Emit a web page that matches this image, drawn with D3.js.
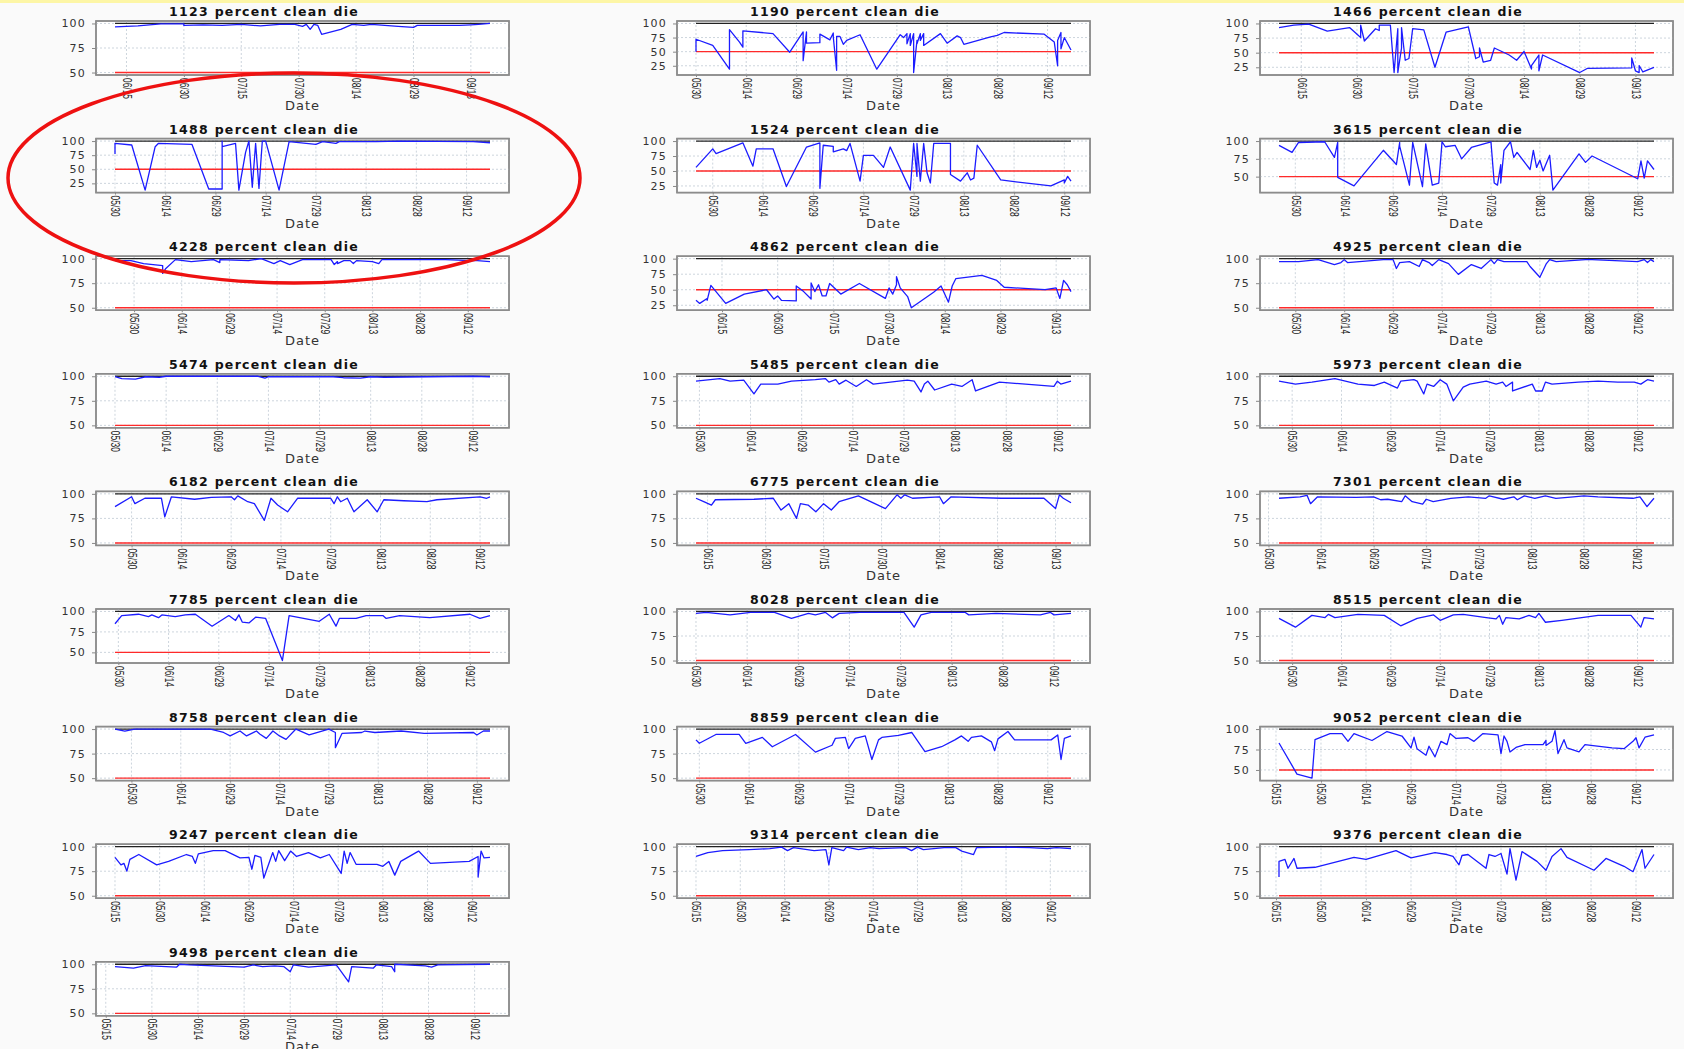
<!DOCTYPE html>
<html lang="en">
<head>
<meta charset="utf-8" />
<title>percent clean die</title>
<script src="https://cdnjs.cloudflare.com/ajax/libs/d3/7.8.5/d3.min.js"></script>
<style>
  body { margin: 0; background: #fafafa; }
  .title { font-family: "DejaVu Sans", sans-serif; font-weight: bold; font-size: 12.5px; letter-spacing: 1.3px; fill: #111; }
  .yaxis text { font-family: "DejaVu Sans", sans-serif; font-size: 11px; letter-spacing: 1.2px; fill: #333; }
  .xaxis text { font-family: "Liberation Sans", sans-serif; font-size: 12px; fill: #222; }
  .yaxis line, .xaxis line { stroke: #888; }
  .axisTitle { font-family: "DejaVu Sans", sans-serif; font-size: 13px; letter-spacing: 1px; fill: #333; }
  .grid { stroke: #cdd5dd; stroke-dasharray: 2,2; stroke-width: 1; }
  .frame { fill: #fff; stroke: #8c8c8c; stroke-width: 1.5; }
</style>
</head>
<body>
<svg id="chart" width="1684" height="1049"></svg>
<script>
// ---- data ----
const waferIds = ["1123","1190","1466","1488","1524","3615","4228","4862","4925","5474","5485","5973",
  "6182","6775","7301","7785","8028","8515","8758","8859","9052","9247","9314","9376","9498"];

const ticksA = ["05/30","06/14","06/29","07/14","07/29","08/13","08/28","09/12"];
const ticksB = ["06/15","06/30","07/15","07/30","08/14","08/29","09/13"];
const ticksC = ["05/15","05/30","06/14","06/29","07/14","07/29","08/13","08/28","09/12"];

const yTickValues = [25, 50, 75, 100];
const targetLevel = 100;
const limitLevel = 50;

const s1123 = [["06/12",96.5],["06/18",97.5],["06/24",99.5],["06/30",99.5],["06/30",98],["07/05",98.5],["07/10",98],["07/15",99],["07/20",97.5],["07/25",99],["07/29",99],["07/31",97],["08/01",99],["08/02",94],["08/03",99],["08/04",98],["08/05",89],["08/10",94],["08/13",99],["08/16",98],["08/18",99],["08/25",97],["08/29",96],["08/30",98],["09/05",98],["09/10",98],["09/13",98.5],["09/15",99],["09/18",100]];
const s1190 = [["05/30",50],["05/30",72],["06/04",61],["06/09",19],["06/09",89],["06/12",67],["06/13",58],["06/13",87],["06/22",82],["06/27",49],["07/01",85],["07/01",34],["07/02",85],["07/02",65],["07/06",66],["07/06",81],["07/09",71],["07/10",83],["07/10",76],["07/11",17],["07/11",77],["07/12",77],["07/13",63],["07/14",70],["07/18",80],["07/23",19],["07/30",80],["07/31",75],["08/01",82],["08/01",64],["08/02",82],["08/02",61],["08/03",82],["08/03",13],["08/04",70],["08/04",64],["08/05",82],["08/05",70],["08/06",82],["08/06",61],["08/11",82],["08/13",65],["08/16",78],["08/17",75],["08/18",63],["08/26",76],["08/28",79],["08/30",84],["09/11",81],["09/14",67],["09/15",25],["09/15",70],["09/16",84],["09/16",55],["09/17",75],["09/19",53]];
const s1466 = [["06/09",93],["06/13",97],["06/17",99],["06/22",87],["06/28",93],["07/01",76],["07/01",97],["07/02",70],["07/05",91],["07/06",88],["07/06",97],["07/09",97],["07/10",16],["07/11",91],["07/11",16],["07/12",58],["07/12",93],["07/13",37],["07/14",40],["07/15",91],["07/18",89],["07/21",25],["07/24",85],["07/30",94],["08/01",40],["08/02",43],["08/02",58],["08/03",34],["08/05",37],["08/06",58],["08/10",46],["08/12",37],["08/14",52],["08/16",22],["08/16",28],["08/18",46],["08/18",19],["08/19",46],["08/29",16],["08/31",23],["09/12",24],["09/12",41],["09/13",19],["09/14",16],["09/14",28],["09/15",17],["09/18",25]];
const s1488 = [["05/30",77],["05/30",96],["06/04",93],["06/08",13],["06/11",90],["06/12",96],["06/22",94],["06/27",15],["07/01",15],["07/01",100],["07/01",90],["07/05",96],["07/06",13],["07/08",80],["07/09",100],["07/10",18],["07/11",96],["07/12",16],["07/13",100],["07/14",100],["07/18",13],["07/21",99],["07/29",94],["07/31",99],["08/04",96],["08/05",99],["08/16",99],["08/23",100],["09/14",99],["09/19",97]];
const s1524 = [["05/25",56],["05/30",87],["05/31",79],["06/08",97],["06/11",58],["06/12",87],["06/17",87],["06/21",24],["06/27",90],["07/01",97],["07/01",21],["07/02",93],["07/05",91],["07/05",82],["07/08",87],["07/09",84],["07/10",96],["07/13",33],["07/14",76],["07/17",76],["07/20",56],["07/22",90],["07/28",18],["07/29",96],["07/30",41],["07/30",96],["07/31",33],["08/01",96],["08/02",47],["08/03",30],["08/04",96],["08/09",96],["08/09",44],["08/12",33],["08/14",47],["08/15",35],["08/16",38],["08/17",93],["08/24",35],["09/08",25],["09/12",35],["09/12",30],["09/13",41],["09/14",33]];
const s3615 = [["05/25",94],["05/29",84],["05/31",98],["06/08",99],["06/11",77],["06/12",98],["06/12",49],["06/17",37],["06/26",87],["06/30",67],["07/01",98],["07/01",93],["07/04",38],["07/05",98],["07/08",36],["07/09",96],["07/10",67],["07/11",38],["07/13",41],["07/14",99],["07/15",92],["07/18",94],["07/20",75],["07/23",91],["07/29",99],["07/30",41],["07/31",38],["08/01",67],["08/01",41],["08/02",87],["08/04",99],["08/05",77],["08/06",84],["08/10",60],["08/11",87],["08/12",63],["08/13",73],["08/14",58],["08/16",80],["08/17",31],["08/25",82],["08/27",70],["08/29",79],["09/12",47],["09/13",72],["09/14",48],["09/15",72],["09/17",60]];
const s4228 = [["05/24",98],["05/29",98],["06/02",95],["06/08",93],["06/08",85],["06/09",90],["06/12",99],["06/17",97],["06/24",99],["06/26",96],["06/26",99],["07/05",98],["07/09",100],["07/13",95],["07/15",98],["07/18",94],["07/22",99],["07/31",99],["08/01",94],["08/02",97],["08/02",95],["08/04",98],["08/06",98],["08/07",95],["08/08",98],["08/13",97],["08/15",95],["08/16",99],["09/05",99],["09/13",98],["09/15",98],["09/19",97]];
const s4862 = [["06/08",33],["06/09",28],["06/11",36],["06/11",33],["06/12",57],["06/16",28],["06/21",43],["06/27",50],["06/29",35],["06/30",40],["07/01",33],["07/05",32],["07/05",56],["07/07",47],["07/09",35],["07/09",61],["07/10",47],["07/11",58],["07/12",40],["07/13",40],["07/14",60],["07/17",43],["07/22",60],["07/29",36],["07/30",53],["07/31",43],["08/01",58],["08/01",71],["08/02",53],["08/04",39],["08/05",21],["08/11",46],["08/13",56],["08/15",30],["08/16",56],["08/17",68],["08/24",73],["08/28",65],["08/30",54],["09/10",50],["09/13",53],["09/14",36],["09/15",65],["09/16",58],["09/17",47]];
const s4925 = [["05/25",97],["05/31",97],["06/06",99],["06/11",94],["06/13",96],["06/14",99],["06/15",96],["06/26",99],["06/29",99],["06/30",90],["07/01",96],["07/04",97],["07/07",92],["07/08",99],["07/10",96],["07/11",93],["07/13",99],["07/16",95],["07/19",84],["07/23",94],["07/26",90],["07/29",99],["07/30",95],["07/31",99],["08/02",97],["08/09",97],["08/10",92],["08/13",81],["08/15",95],["08/16",99],["08/18",97],["08/27",99],["08/29",99],["09/12",97],["09/14",99],["09/15",96],["09/16",99],["09/17",97]];
const s5474 = [["05/30",99.5],["06/01",97.5],["06/05",97],["06/08",99.5],["06/12",99],["06/14",100],["07/11",100],["07/13",98],["07/14",99.5],["08/02",99.5],["08/05",98.5],["08/10",98],["08/13",99.5],["08/17",99],["09/12",100],["09/17",99.5]];
const s5485 = [["05/29",95],["06/05",97.5],["06/08",95],["06/12",96],["06/15",82],["06/17",92],["06/22",92],["06/26",95],["07/03",96.5],["07/06",97.5],["07/07",94],["07/09",96.5],["07/10",92],["07/12",96],["07/15",89.6],["07/18",96.5],["07/20",92],["07/25",94],["07/30",96],["08/01",95],["08/03",84],["08/04",92],["08/05",95],["08/07",86],["08/12",92],["08/15",89.6],["08/18",96.5],["08/19",85],["08/26",94],["09/11",89.6],["09/12",95],["09/13",92],["09/16",95]];
const s5973 = [["05/26",95],["05/31",92],["06/05",94],["06/12",97.5],["06/19",92],["06/24",90.6],["06/27",94],["07/01",88],["07/02",95],["07/06",96.5],["07/07",95],["07/09",82],["07/10",92],["07/12",89.6],["07/14",96.5],["07/16",92],["07/18",75],["07/21",89],["07/23",92],["07/28",95],["07/31",92],["08/02",94],["08/03",89.6],["08/05",94],["08/05",85],["08/11",92],["08/12",85],["08/14",85],["08/15",94],["08/17",92],["08/25",94],["08/31",95],["09/06",94],["09/11",94],["09/13",92],["09/15",96.5],["09/17",95]];
const s6182 = [["05/25",87],["05/30",97],["05/31",90],["06/03",95.5],["06/08",95.5],["06/09",76.6],["06/11",97],["06/18",94.5],["06/23",96.5],["06/29",97],["06/30",94],["07/01",98],["07/04",92],["07/06",90],["07/09",73],["07/11",95.5],["07/13",88.6],["07/16",81.7],["07/19",95.5],["07/29",95.5],["07/30",90],["07/31",97],["08/01",92],["08/03",95.5],["08/05",81.7],["08/09",94],["08/12",81.7],["08/14",94],["08/20",93],["08/27",92],["08/30",94],["09/12",97],["09/14",95.5],["09/15",97]];
const s6775 = [["06/12",95.5],["06/14",92],["06/16",88.6],["06/17",94],["06/27",94.5],["07/02",95.5],["07/04",83.5],["07/06",90],["07/08",75],["07/09",90],["07/11",88.6],["07/13",81.7],["07/15",90],["07/17",83.5],["07/19",92],["07/24",98],["07/31",85],["08/03",99],["08/04",95.5],["08/05",99],["08/07",95.5],["08/14",97],["08/15",90],["08/17",97],["08/30",95.5],["09/10",95.5],["09/13",85],["09/14",99],["09/15",95.5],["09/17",91]];
const s7301 = [["06/02",95.5],["06/08",97],["06/10",98.5],["06/11",90],["06/13",97],["06/24",96.5],["06/29",97],["07/01",94],["07/03",94.5],["07/07",92],["07/08",98],["07/10",92],["07/13",89.6],["07/14",94.5],["07/16",92],["07/21",95.5],["07/26",97],["07/31",95.5],["08/01",98],["08/05",94.5],["08/08",97],["08/09",94],["08/11",98],["08/14",95.5],["08/17",98],["08/20",95.5],["08/25",97],["08/28",98],["09/01",97],["09/11",95.5],["09/13",97],["09/15",87],["09/17",95.5]];
const s7785 = [["05/29",85],["05/31",95],["06/05",96.6],["06/08",93.6],["06/09",95.8],["06/11",92.4],["06/12",95.8],["06/16",93.6],["06/19",95.8],["06/22",96.6],["06/27",82],["07/02",95],["07/04",89],["07/05",95.8],["07/06",87],["07/08",86],["07/10",93],["07/13",91.5],["07/18",40],["07/20",95],["07/29",88],["08/01",96.6],["08/03",82],["08/04",91.5],["08/09",91.5],["08/12",95],["08/17",95],["08/18",91.5],["08/22",95],["08/31",92.4],["09/12",96.6],["09/15",91.5],["09/18",95]];
const s8028 = [["05/30",98],["06/02",99],["06/09",96.5],["06/15",99],["06/22",99],["06/27",93],["07/02",98],["07/04",96.5],["07/07",99],["07/09",93.5],["07/11",98],["07/17",99],["07/30",99],["08/02",84],["08/04",96.5],["08/07",99],["08/17",99],["08/18",96.5],["08/26",98],["09/08",96.5],["09/11",99],["09/12",96.5],["09/17",98]];
const s8515 = [["05/26",93],["05/31",84],["06/05",96],["06/09",93.8],["06/10",97],["06/12",93.8],["06/19",97],["06/27",96],["07/02",85.4],["07/07",93],["07/12",96.5],["07/14",91],["07/18",96.5],["07/21",97],["07/28",93.8],["07/31",92.4],["08/01",96],["08/02",87],["08/03",93.8],["08/07",92.4],["08/10",96],["08/12",93.8],["08/13",98],["08/15",89],["08/20",91],["08/31",96],["09/10",96],["09/13",84],["09/14",93.8],["09/17",92.4]];
const s8758 = [["05/25",100],["05/28",98],["05/31",100],["06/23",100],["06/27",96.5],["06/29",93],["07/02",98],["07/04",93],["07/07",98],["07/08",95],["07/10",90.5],["07/12",98],["07/14",93],["07/16",89.5],["07/19",100],["07/23",94],["07/29",100],["07/31",96.5],["07/31",81],["08/02",95.5],["08/08",96.5],["08/09",98],["08/12",96.5],["08/20",98],["08/27",95.5],["09/11",96.5],["09/12",94],["09/14",98],["09/16",98]];
const s8859 = [["05/29",89],["05/30",85.5],["06/04",94.5],["06/11",94.5],["06/13",85.5],["06/18",91.5],["06/21",82],["06/28",94.5],["07/04",76.5],["07/09",83.5],["07/10",90.5],["07/13",91.5],["07/14",80],["07/16",90.5],["07/19",93],["07/21",69],["07/23",89],["07/24",91.5],["07/29",93.5],["08/02",96.5],["08/06",77],["08/11",82],["08/15",89],["08/17",93],["08/19",87.5],["08/20",91.5],["08/23",93],["08/26",87],["08/27",78],["08/28",90],["08/31",97.5],["09/02",89],["09/13",89],["09/15",94],["09/16",69],["09/17",90.5],["09/19",93]];
const s9052 = [["05/16",83],["05/22",45],["05/27",40],["05/28",87],["06/02",94.5],["06/06",94.5],["06/08",85],["06/10",94.5],["06/16",86],["06/21",97],["06/26",91.5],["06/29",77],["06/30",90],["07/01",76],["07/04",68],["07/05",79],["07/07",66],["07/09",85],["07/11",81],["07/12",94.5],["07/14",88.5],["07/18",89.4],["07/20",85],["07/23",94.5],["07/28",93],["07/29",70],["07/30",91.5],["07/31",85],["08/01",72],["08/03",77.5],["08/06",81],["08/12",81],["08/13",86],["08/13",80],["08/15",85],["08/16",98],["08/17",70],["08/19",87],["08/20",77],["08/24",72],["08/26",81],["08/28",80],["09/04",77],["09/08",76],["09/11",85],["09/12",89.4],["09/13",77],["09/15",90],["09/18",93]];
const s9247 = [["05/15",89],["05/17",81.5],["05/18",83],["05/19",75],["05/20",87],["05/23",92],["05/29",81.5],["06/02",85],["06/08",92],["06/10",90],["06/11",83],["06/12",92.7],["06/17",96],["06/21",96],["06/26",88.5],["06/29",89],["06/30",77],["07/01",91],["07/03",89],["07/04",68],["07/07",94],["07/08",85],["07/09",96],["07/11",85.7],["07/13",95.5],["07/15",90],["07/19",94],["07/23",88.5],["07/26",92],["07/30",72.7],["07/31",95.5],["08/01",83],["08/02",94],["08/04",82],["08/11",82],["08/13",80],["08/15",85],["08/17",71],["08/19",85],["08/25",95.5],["08/29",83],["09/11",85],["09/14",90],["09/14",69],["09/15",95.5],["09/16",88.5],["09/18",89]];
const s9314 = [["05/15",90],["05/19",94],["05/24",96],["06/02",97],["06/09",98],["06/13",99.5],["06/15",96],["06/17",99],["06/24",96],["06/28",97],["06/29",81.5],["06/30",99],["07/04",96],["07/05",99.5],["07/09",97],["07/13",99],["07/16",98],["07/25",99],["07/27",96],["07/29",99.5],["07/31",97],["08/07",99],["08/11",99],["08/13",95.5],["08/17",92],["08/18",99],["08/29",99.5],["09/05",99],["09/11",98],["09/14",99],["09/19",98]];
const s9376 = [["05/16",69],["05/16",85],["05/18",87],["05/19",78],["05/21",88],["05/22",78],["05/28",79],["06/10",89],["06/14",87],["06/24",96],["06/29",88.5],["07/07",94],["07/11",92],["07/13",90],["07/15",81.5],["07/16",91],["07/18",92],["07/24",78],["07/25",92],["07/27",90],["07/29",93],["07/31",72],["08/01",98],["08/03",66],["08/05",95],["08/10",85],["08/13",76],["08/15",90],["08/18",98],["08/20",89],["08/29",76],["09/02",88],["09/08",80],["09/11",74.5],["09/14",97],["09/15",78],["09/18",92]];
const s9498 = [["05/18",97.5],["05/24",96],["05/28",98.6],["06/07",97],["06/08",100],["06/11",99.3],["06/29",97],["07/02",99.3],["07/05",97.5],["07/09",98.3],["07/12",97.5],["07/14",92.4],["07/15",99.3],["07/20",97],["07/29",99.3],["08/02",82],["08/03",97.5],["08/10",96],["08/11",99.3],["08/16",97.5],["08/17",92.4],["08/17",100],["08/27",98.3],["08/29",97],["08/31",99.3],["09/17",100]];

const seriesList = [s1123, s1190, s1466, s1488, s1524, s3615, s4228, s4862, s4925, s5474, s5485, s5973,
  s6182, s6775, s7301, s7785, s8028, s8515, s8758, s8859, s9052, s9247, s9314, s9376, s9498];
const tickSets = [ticksB, ticksA, ticksB, ticksA, ticksA, ticksA, ticksA, ticksB, ticksA, ticksA, ticksA, ticksA,
  ticksA, ticksB, ticksA, ticksA, ticksA, ticksA, ticksA, ticksA, ticksC, ticksC, ticksC, ticksC, ticksC];

// ---- layout ----
const colLeft = [96, 677, 1260];
const plotW = 413, plotH = 54;
const rowTop0 = 21, rowStep = 117.6;
const padFrac = 0.046;

const parseDate = d3.timeParse("%Y/%m/%d");
const toDate = s => parseDate("2013/" + s);
const fmt = d3.timeFormat("%m/%d");

const svg = d3.select('#chart');

svg.append('rect').attr('x', 0).attr('y', 0).attr('width', 1684).attr('height', 1049).attr('fill', '#fafafa');
svg.append('rect').attr('x', 0).attr('y', 0).attr('width', 1684).attr('height', 3).attr('fill', '#fdf6a6');

waferIds.forEach((id, i) => {
  const data = seriesList[i].map(([d, v]) => ({ date: toDate(d), value: v }));
  const left = colLeft[i % 3];
  const top = rowTop0 + Math.floor(i / 3) * rowStep;
  const g = svg.append('g').attr('transform', `translate(${left},${top})`);

  const [d0, d1] = d3.extent(data, d => d.date);
  const pad = plotW * padFrac;
  const x = d3.scaleTime().domain([d0, d1]).range([pad, plotW - pad]);

  const lo = Math.min(d3.min(data, d => d.value), limitLevel);
  const hi = targetLevel;
  const m = (hi - lo) * 0.05;
  const y = d3.scaleLinear().domain([lo - m, hi + m]).range([plotH, 0]);

  const xt = tickSets[i].map(toDate).filter(t => x(t) >= -1 && x(t) <= plotW);
  const yt = yTickValues.filter(v => v >= lo - m && v <= hi + m);

  g.append('rect').attr('class', 'frame').attr('width', plotW).attr('height', plotH);

  // grid
  g.selectAll('.vgrid').data(xt).join('line')
    .attr('class', 'grid')
    .attr('x1', d => x(d)).attr('x2', d => x(d))
    .attr('y1', 0).attr('y2', plotH);
  g.selectAll('.hgrid').data(yt).join('line')
    .attr('class', 'grid')
    .attr('x1', 0).attr('x2', plotW)
    .attr('y1', d => y(d)).attr('y2', d => y(d));

  // reference levels
  g.append('line')
    .attr('x1', x(d0)).attr('x2', x(d1))
    .attr('y1', y(targetLevel)).attr('y2', y(targetLevel))
    .attr('stroke', '#222').attr('stroke-width', 1.3);
  g.append('line')
    .attr('x1', x(d0)).attr('x2', x(d1))
    .attr('y1', y(limitLevel)).attr('y2', y(limitLevel))
    .attr('stroke', '#ff2a2a').attr('stroke-width', 1.4);

  // series
  const line = d3.line().x(d => x(d.date)).y(d => y(d.value));
  g.append('path')
    .datum(data)
    .attr('fill', 'none')
    .attr('stroke', '#1c1cff')
    .attr('stroke-width', 1.3)
    .attr('stroke-linejoin', 'round')
    .attr('d', line);

  g.append('rect').attr('width', plotW).attr('height', plotH)
    .attr('fill', 'none').attr('stroke', '#8c8c8c').attr('stroke-width', 1.5);

  // axes
  const yAxis = d3.axisLeft(y).tickValues(yt).tickSizeInner(4).tickSizeOuter(0).tickPadding(6);
  g.append('g').attr('class', 'yaxis').call(yAxis).call(a => a.select('.domain').remove());

  const xAxis = d3.axisBottom(x).tickValues(xt).tickFormat(fmt).tickSizeInner(2).tickSizeOuter(0);
  g.append('g').attr('class', 'xaxis')
    .attr('transform', `translate(0,${plotH})`)
    .call(xAxis)
    .call(a => a.select('.domain').remove())
    .selectAll('text')
    .attr('transform', 'rotate(90)')
    .attr('x', 3).attr('y', 0).attr('dy', '0.35em')
    .attr('textLength', 21)
    .attr('lengthAdjust', 'spacingAndGlyphs')
    .style('text-anchor', 'start');

  g.append('text').attr('class', 'title')
    .attr('x', 168).attr('y', -5)
    .attr('text-anchor', 'middle')
    .text(`${id} percent clean die`);

  g.append('text').attr('class', 'axisTitle')
    .attr('x', plotW / 2).attr('y', 89)
    .attr('text-anchor', 'middle')
    .text('Date');
});

// highlight ring around 1488
svg.append('ellipse')
  .attr('cx', 294).attr('cy', 178)
  .attr('rx', 286).attr('ry', 105)
  .attr('fill', 'none')
  .attr('stroke', '#ee1111')
  .attr('stroke-width', 3.5);
</script>
</body>
</html>
